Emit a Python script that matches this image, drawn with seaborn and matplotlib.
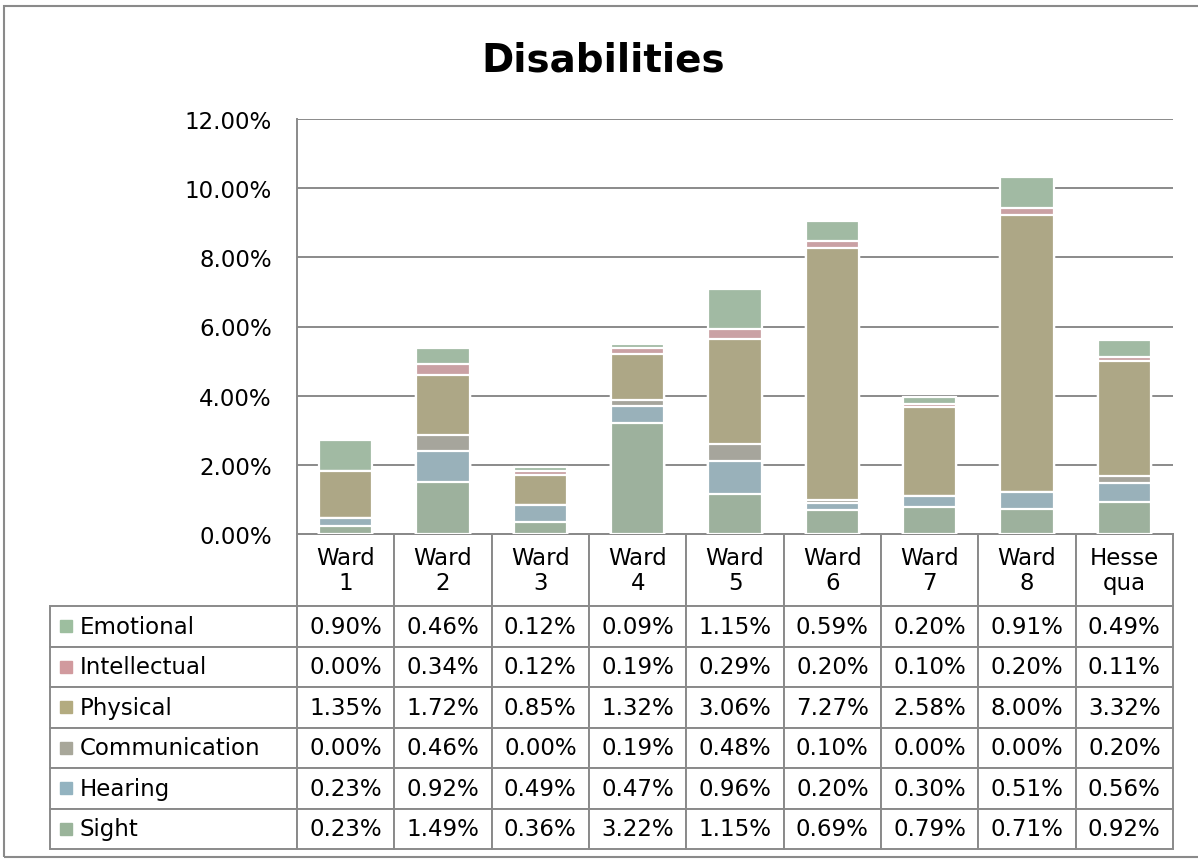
import matplotlib.pyplot as plt
import seaborn as sns
import pandas as pd
from matplotlib.table import Table
from matplotlib.patches import Rectangle

wards = ["Ward\n1", "Ward\n2", "Ward\n3", "Ward\n4", "Ward\n5",
         "Ward\n6", "Ward\n7", "Ward\n8", "Hesse\nqua"]

# values in percent, stacked bottom -> top
sight = [0.23, 1.49, 0.36, 3.22, 1.15, 0.69, 0.79, 0.71, 0.92]
hearing = [0.23, 0.92, 0.49, 0.47, 0.96, 0.20, 0.30, 0.51, 0.56]
communication = [0.00, 0.46, 0.00, 0.19, 0.48, 0.10, 0.00, 0.00, 0.20]
physical = [1.35, 1.72, 0.85, 1.32, 3.06, 7.27, 2.58, 8.00, 3.32]
intellectual = [0.00, 0.34, 0.12, 0.19, 0.29, 0.20, 0.10, 0.20, 0.11]
emotional = [0.90, 0.46, 0.12, 0.09, 1.15, 0.59, 0.20, 0.91, 0.49]

series = ["Sight", "Hearing", "Communication", "Physical", "Intellectual", "Emotional"]
colors = ["#9ab49a", "#93b3c0", "#a8a79a", "#b3ab80", "#d19a9e", "#9dbe9f"]

df = pd.DataFrame({"ward": wards, "Sight": sight, "Hearing": hearing,
                   "Communication": communication, "Physical": physical,
                   "Intellectual": intellectual, "Emotional": emotional})
cum = df[series].cumsum(axis=1)

sns.set_style("white")
plt.rcParams["font.family"] = ["DejaVu Sans"]
plt.rcParams["text.color"] = "black"
plt.rcParams["ytick.color"] = "black"
FS = 16.5

W, H = 1198, 862
fig = plt.figure(figsize=(W / 100, H / 100), dpi=100)
left, right, top, bottom = 297, 1173, 120, 535
ax = fig.add_axes([left / W, 1 - bottom / H, (right - left) / W, (bottom - top) / H])

# stacked bars: draw cumulative totals from the top series down
for s, c in reversed(list(zip(series, colors))):
    plot_df = pd.DataFrame({"ward": wards, "val": cum[s]})
    sns.barplot(data=plot_df, x="ward", y="val", order=wards, color=c,
                edgecolor="white", linewidth=1.6, width=0.55, ax=ax, zorder=3)

ax.set_xlim(-0.5, len(wards) - 0.5)
ax.set_ylim(0, 12)
ax.set_yticks(range(0, 13, 2))
ax.set_yticklabels([f"{v:.2f}%" for v in range(0, 13, 2)], fontsize=FS, color="black")
ax.tick_params(axis="y", length=0, pad=18)
ax.set_xticks([])
ax.set_xlabel("")
ax.set_ylabel("")
ax.grid(axis="y", color="#8a8a8a", linewidth=1.4, zorder=0)
for sp in ["top", "right"]:
    ax.spines[sp].set_visible(False)
for sp in ["left", "bottom"]:
    ax.spines[sp].set_color("#8a8a8a")
    ax.spines[sp].set_linewidth(1.4)

# data table under the chart
tab_left, tab_bottom = 50, 850
aw, ah = right - left, bottom - top
tb = Table(ax, bbox=[(tab_left - left) / aw, -(tab_bottom - bottom) / ah,
                     (right - tab_left) / aw, (tab_bottom - bottom) / ah])
col_w = (right - left) / len(wards)
label_w = left - tab_left
head_h, row_h = 72, (tab_bottom - bottom - 72) / 6
edge = "#8a8a8a"

corner = tb.add_cell(0, 0, width=label_w, height=head_h, text="")
corner.visible_edges = "open"
for j, w in enumerate(wards):
    cell = tb.add_cell(0, j + 1, width=col_w, height=head_h, text=w, loc="center",
                       edgecolor=edge)
    cell.get_text().set_fontsize(FS)
    cell.get_text().set_color("black")
    cell.get_text().set_linespacing(1.15)

rows = list(reversed(series))
for i, s in enumerate(rows):
    cell = tb.add_cell(i + 1, 0, width=label_w, height=row_h, text=s, loc="left",
                       edgecolor=edge)
    cell.PAD = 0.12
    cell.get_text().set_fontsize(FS)
    cell.get_text().set_color("black")
    for j, v in enumerate(df[s]):
        cell = tb.add_cell(i + 1, j + 1, width=col_w, height=row_h, text=f"{v:.2f}%",
                           loc="center", edgecolor=edge)
        cell.get_text().set_fontsize(FS)
        cell.get_text().set_color("black")
    # legend key square
    ymid = bottom + head_h + row_h * (i + 0.5)
    ax.add_patch(Rectangle(((60 - left) / aw, -(ymid + 6 - bottom) / ah), 12 / aw, 12 / ah,
                           transform=ax.transAxes, color=colors[series.index(s)],
                           clip_on=False))
tb.auto_set_font_size(False)
for c in tb.get_celld().values():
    c.set_linewidth(1.4)
ax.add_table(tb)

fig.text(603 / W, 1 - 60 / H, "Disabilities", ha="center", va="center",
         fontsize=28, fontweight="bold", color="black")
fig.patches.append(Rectangle((4 / W, 4 / H), 1.2, 1 - 11 / H, transform=fig.transFigure,
                             fill=False, edgecolor="#8a8a8a", linewidth=1.5))

fig.savefig("out.png", dpi=100)
